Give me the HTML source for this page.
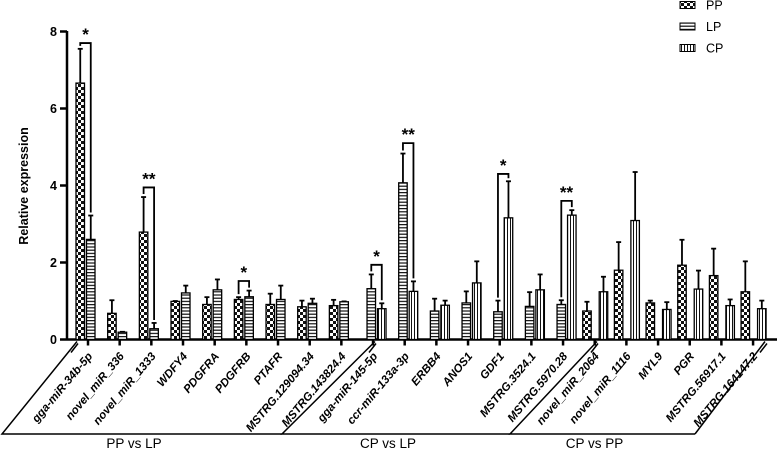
<!DOCTYPE html>
<html><head><meta charset="utf-8"><style>
body{margin:0;background:#fff;}
svg{display:block;font-family:"Liberation Sans",Arial,sans-serif;}
</style></head><body>
<svg id="chart" width="777" height="450" viewBox="0 0 777 450">
<defs>
<pattern id="pp" width="6" height="6" patternUnits="userSpaceOnUse"><rect width="6" height="6" fill="#fff"/><rect width="3" height="3" fill="#111"/><rect x="3" y="3" width="3" height="3" fill="#111"/></pattern>
<pattern id="lp" width="6" height="3.2" patternUnits="userSpaceOnUse"><rect width="6" height="3.2" fill="#fff"/><rect width="6" height="1.2" fill="#111"/></pattern>
<pattern id="cp" width="3" height="6" patternUnits="userSpaceOnUse"><rect width="3" height="6" fill="#fff"/><rect width="1" height="6" fill="#111"/></pattern>
</defs>
<g id="plot"></g>
</svg>
<script>
const categories=["gga-miR-34b-5p","novel_miR_336","novel_miR_1333","WDFY4","PDGFRA","PDGFRB","PTAFR","MSTRG.129094.34","MSTRG.143824.4","gga-miR-145-5p","ccr-miR-133a-3p","ERBB4","ANOS1","GDF1","MSTRG.3524.1","MSTRG.5970.28","novel_miR_2064","novel_miR_1116","MYL9","PGR","MSTRG.56917.1","MSTRG.164147.2"];
const ppValues=[6.66,0.68,2.79,0.99,0.91,1.04,0.91,0.85,0.88,null,null,null,null,null,null,null,0.74,1.80,0.95,1.93,1.66,1.24];
const ppErrors=[7.55,1.02,3.70,1.00,1.10,1.10,1.19,1.01,1.03,null,null,null,null,null,null,null,0.98,2.53,1.01,2.59,2.36,2.03];
const lpValues=[2.60,0.19,0.28,1.21,1.29,1.11,1.04,0.94,0.98,1.32,4.07,0.74,0.95,0.72,0.86,0.91,null,null,null,null,null,null];
const lpErrors=[3.22,0.20,0.43,1.40,1.56,1.27,1.40,1.06,0.99,1.69,4.83,1.06,1.25,1.01,1.23,1.02,null,null,null,null,null,null];
const cpValues=[null,null,null,null,null,null,null,null,null,0.80,1.25,0.89,1.47,3.16,1.29,3.23,1.24,3.09,0.78,1.31,0.88,0.80];
const cpErrors=[null,null,null,null,null,null,null,null,null,0.94,1.51,1.01,2.03,4.11,1.69,3.36,1.63,4.35,0.97,1.79,1.04,1.01];
const yTicks=[0,2,4,6,8];
const sigIndex=[0,2,5,9,10,13,15];
const sigLabels=["*","**","*","*","**","*","**"];
const sigLevels=[7.7,3.95,1.52,1.94,5.1,4.3,3.6];
const groupNames=["PP vs LP","CP vs LP","CP vs PP"];

const NS="http://www.w3.org/2000/svg";
const g=document.getElementById('plot');
const X0=67,Y0=339.5,UNIT=38.5,XEND=777;
function y(v){return Y0-v*UNIT;}
function xc(i){return 88+i*31.67;}
function mk(tag,attrs,parent){const e=document.createElementNS(NS,tag);for(const k in attrs)e.setAttribute(k,attrs[k]);(parent||g).appendChild(e);return e;}

let t=mk('text',{x:0,y:0,transform:'translate(28,186) rotate(-90)','text-anchor':'middle','font-size':'12.5','font-weight':'bold'});
t.textContent='Relative expression';



let ya=mk('line',{x1:X0,y1:31,x2:X0,y2:Y0+1,stroke:'#000','stroke-width':2.5});


yTicks.forEach(v=>{
  mk('line',{x1:X0-7,y1:y(v),x2:X0,y2:y(v),stroke:'#000','stroke-width':2.5});
  const l=mk('text',{x:X0-10,y:y(v)+4.5,'text-anchor':'end','font-size':'12.5','font-weight':'bold'});
  l.textContent=v;
  
  
});
let xa=mk('line',{x1:X0,y1:Y0,x2:XEND,y2:Y0,stroke:'#000','stroke-width':2.5});


[71,369,591,760].forEach(bx=>mk('line',{x1:bx,y1:Y0+13,x2:bx+7,y2:Y0+4,stroke:'#000','stroke-width':1.5}));

function drawBar(i,v,e,fill,left,name){
  if(v==null)return;
  const x=xc(i)+left,w=8.5;
  mk('line',{x1:x+w/2,y1:y(e),x2:x+w/2,y2:y(v),stroke:'#000','stroke-width':1.8});
  mk('line',{x1:x+w/2-2.5,y1:y(e),x2:x+w/2+2.5,y2:y(e),stroke:'#000','stroke-width':1.8});
  const r=mk('rect',{x:x,y:y(v),width:w,height:Y0-y(v),fill:'url(#'+fill+')',stroke:'#000','stroke-width':1.3});
  
  
}
function offs(i){ if(i<9)return {pp:-12,lp:-1.5}; if(i<16)return {lp:-6,cp:4.5}; return {pp:-12,cp:4.5}; }
categories.forEach((c,i)=>{
  const o=offs(i);
  if(o.pp!==undefined)drawBar(i,ppValues[i],ppErrors[i],'pp',o.pp,'bar-pp');
  if(o.lp!==undefined)drawBar(i,lpValues[i],lpErrors[i],'lp',o.lp,'bar-lp');
  if(o.cp!==undefined)drawBar(i,cpValues[i],cpErrors[i],'cp',o.cp,'bar-cp');
  mk('line',{x1:xc(i),y1:Y0,x2:xc(i),y2:Y0+6,stroke:'#000','stroke-width':2.5});
  const lb=mk('text',{x:0,y:0,transform:'translate('+(xc(i)+5)+','+(Y0+17)+') rotate(-50)','text-anchor':'end','font-size':'11.5','font-weight':'bold','font-style':'italic'});
  lb.textContent=c;
  
  
});
sigIndex.forEach((i,k)=>{
  const o=offs(i);const keys=Object.keys(o);
  const xa1=xc(i)+o[keys[0]]+4.25, xa2=xc(i)+o[keys[1]]+4.25;
  const ea=[ppErrors,lpErrors,cpErrors];
  const idx={pp:0,lp:1,cp:2};
  const e1=ea[idx[keys[0]]][i], e2=ea[idx[keys[1]]][i];
  const yl=y(sigLevels[k]);
  const p=mk('path',{d:`M${xa1},${y(e1)-3} V${yl} H${xa2} V${y(e2)-3}`,fill:'none',stroke:'#000','stroke-width':1.8});
  
  
  const s=mk('text',{x:(xa1+xa2)/2,y:yl-3,'text-anchor':'middle','font-size':'17','font-weight':'bold'});
  s.textContent=sigLabels[k];
  
  
});
const gb=[[2,282,77,375],[282,510,375,597],[510,695,597,765]];
gb.forEach((b,k)=>{
  const p=mk('path',{d:`M${b[2]},${Y0+2} L${b[0]},434 L${b[1]},434`,fill:'none',stroke:'#000','stroke-width':1.5});
  
  
  const tx=mk('text',{x:(b[0]+b[1])/2-8,y:448,'text-anchor':'middle','font-size':'13.5'});
  tx.textContent=groupNames[k];
  
  
});
mk('line',{x1:695,y1:434,x2:765,y2:Y0+2,stroke:'#000','stroke-width':1.5});
[['pp','PP'],['lp','LP'],['cp','CP']].forEach((l,k)=>{
  const yy=5+k*21.5;
  const r=mk('rect',{x:680,y:yy-3.5,width:15,height:7,fill:'url(#'+l[0]+')',stroke:'#000','stroke-width':1});
  
  
  const tx=mk('text',{x:706,y:yy+4.5,'font-size':'12.5'});
  tx.textContent=l[1];
  
  
});
</script>
</body></html>
